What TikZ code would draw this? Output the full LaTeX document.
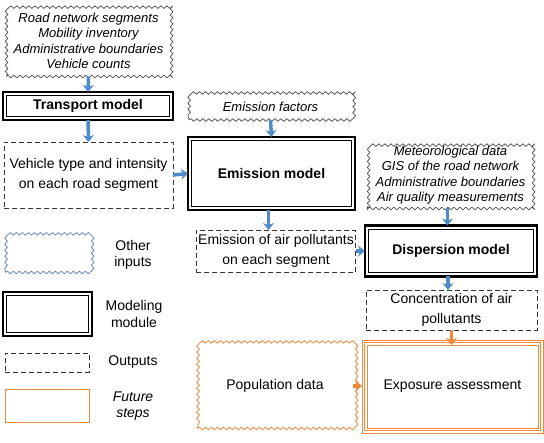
\documentclass[tikz,border=0pt]{standalone}
\usepackage{fontspec}
\setmainfont{Liberation Sans}
\usetikzlibrary{decorations.pathmorphing,arrows.meta,calc}
\definecolor{arrblue}{HTML}{4F8AC9}
\definecolor{orng}{HTML}{F0883A}
\definecolor{wavgray}{HTML}{4A4A4A}
\definecolor{legblue}{HTML}{6A88B8}
\begin{document}
\begin{tikzpicture}[x=1pt,y=-1pt,
  every node/.style={outer sep=0pt, inner sep=2pt, align=center, font=\fontsize{14}{17}\selectfont},
  inbox/.style={draw=wavgray, line width=0.7pt, decorate, decoration={snake, segment length=6pt, amplitude=1.3pt},
    font=\fontsize{13}{15.5}\selectfont\itshape},
  module/.style={draw=black, line width=2.4pt, font=\fontsize{14}{17}\selectfont\bfseries},
  outbox/.style={draw=black!80, line width=0.9pt, dash pattern=on 5pt off 3pt, font=\fontsize{14}{19.5}\selectfont},
  futwave/.style={draw=orng, line width=0.8pt, decorate, decoration={snake, segment length=6pt, amplitude=1.3pt}},
  futbox/.style={draw=orng, line width=0.9pt},
  barr/.style={draw=arrblue, line width=3.5pt, -{Stealth[length=7pt,width=11pt]}},
  oarr/.style={draw=orng, line width=3.5pt, -{Stealth[length=7pt,width=11pt]}},
  legtext/.style={font=\fontsize{14}{16.5}\selectfont}
]
\useasboundingbox (0,0) rectangle (544,443);

% inputs
\node[inbox, minimum width=165pt, minimum height=71pt] (in1) at (88.5,41)
  {Road network segments\\Mobility inventory\\Administrative boundaries\\Vehicle counts};
\node[inbox, minimum width=163pt, minimum height=27pt] (efac) at (270.5,106.5) {Emission factors};
\node[inbox, minimum width=165pt, minimum height=67pt] (in2) at (450.5,175)
  {Meteorological data\\GIS of the road network\\Administrative boundaries\\Air quality measurements};

% modules
\node[module, minimum width=170pt, minimum height=28pt] (transport) at (88,106) {Transport model};
\node[module, minimum width=167pt, minimum height=73pt] (emission) at (271.5,173.5) {Emission model};
\node[module, minimum width=172pt, minimum height=51pt] (dispersion) at (451,251) {Dispersion model};

% outputs
\node[outbox, minimum width=169pt, minimum height=66pt] (vehicle) at (88.5,175)
  {Vehicle type and intensity\\on each road segment};
\node[outbox, minimum width=156pt, minimum height=42pt] (emout) at (276,251)
  {Emission of air pollutants\\on each segment};
\node[outbox, minimum width=171pt, minimum height=40pt] (conc) at (451.5,310)
  {Concentration of air\\pollutants};

% future
\node[futwave, minimum width=155pt, minimum height=85pt] (pop) at (275,386) {Population data};
\node[futbox, minimum width=181pt, minimum height=93pt] (expo) at (452.5,386.5) {Exposure assessment};

% legend
\node[draw=legblue, line width=0.8pt, decorate, decoration={snake, segment length=6pt, amplitude=1.3pt},
  minimum width=84pt, minimum height=37pt] (lin) at (47.5,254) {};
\node[module, minimum width=89pt, minimum height=44pt] (lmod) at (47.5,314) {};
\node[outbox, minimum width=84pt, minimum height=19pt] (lout) at (47,362.5) {};
\node[futbox, minimum width=84pt, minimum height=33pt] (lfut) at (47,405.5) {};
\node[legtext] (tin) at (133,255) {Other\\inputs};
\node[legtext] (tmod) at (134,314) {Modeling\\module};
\node[legtext] (tout) at (133,362) {Outputs};
\node[legtext, font=\fontsize{14}{16.5}\selectfont\itshape] (tfut) at (133,406) {Future\\steps};

% inner lines of modules
\foreach \n in {transport,emission,dispersion,lmod}
  \draw[line width=0.8pt] ([shift={(3.6pt,-3.6pt)}]\n.north west) rectangle ([shift={(-3.6pt,3.6pt)}]\n.south east);
% triple orange border
\foreach \d in {2.5pt,5pt}
  \draw[orng, line width=0.9pt] ([shift={(\d,-\d)}]expo.north west) rectangle ([shift={(-\d,\d)}]expo.south east);

% arrow start points
\coordinate (a1) at ($(emission.south)+(-3pt,0)$);
\coordinate (a2) at ($(in2.south)+(-3pt,0)$);
\coordinate (a3) at ($(dispersion.south)+(-3pt,0)$);
\coordinate (a4) at ($(conc.south |- expo.north)+(0,-5pt)$);

% arrows
\draw[barr] (in1.south) -- (transport.north);
\draw[barr] (transport.south) -- (vehicle.north);
\draw[barr] (vehicle.east) -- (emission.west);
\draw[barr] (efac.south) -- (emission.north);
\draw[barr] (a1) -- (a1 |- emout.north);
\draw[barr] (emout.east) -- (emout.east -| dispersion.west);
\draw[barr] (a2) -- (a2 |- dispersion.north);
\draw[barr] (a3) -- (a3 |- conc.north);
\draw[oarr] (conc.south) -- (a4);
\draw[oarr] (pop.east) -- (pop.east -| expo.west);
\end{tikzpicture}
\end{document}
